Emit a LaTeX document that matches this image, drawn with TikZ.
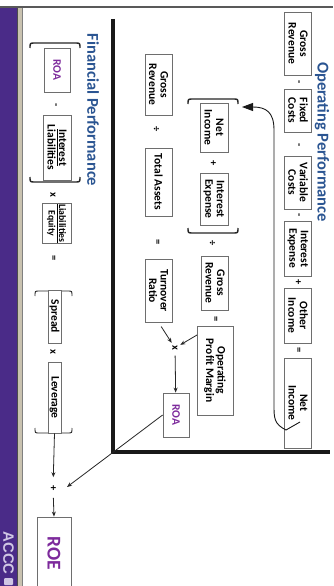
\documentclass[tikz,border=0pt]{standalone}
\usepackage{fontspec}
\setmainfont{Carlito}
\newfontfamily\accfont{Liberation Sans}
\usetikzlibrary{arrows.meta}
\definecolor{ttlblue}{HTML}{2B5592}
\definecolor{roapurple}{HTML}{7D2A9C}
\definecolor{barpurple}{HTML}{4A2B88}
\definecolor{boxline}{HTML}{6E6E6E}
\definecolor{beigestrip}{HTML}{C9C2B0}
\definecolor{lavtext}{HTML}{CFC6E4}
\begin{document}
\begin{tikzpicture}[x=1pt,y=1pt,
  box/.style={draw=boxline, line width=0.8pt, fill=white, align=center, inner sep=0pt,
     font=\bfseries\fontsize{11.5}{11.5}\selectfont},
  opr/.style={inner sep=0pt, font=\bfseries\fontsize{10.5}{10.5}\selectfont},
  ttl/.style={inner sep=0pt, text=ttlblue, font=\bfseries\fontsize{16.5}{16.5}\selectfont},
  arr/.style={-{Stealth[length=5pt,width=4pt]}, line width=0.8pt, black!85},
  brk/.style={line width=1.4pt, black!85}]
\clip (0,-586) rectangle (333,0);
\fill[white] (0,-586) rectangle (333,0);
\begin{scope}[rotate=-90, transform shape]
  % slide frame and bottom bar
  \fill[barpurple] (8,0) rectangle (586,17);
  \fill[beigestrip] (8,17) rectangle (586,22.5);
  \draw[black!70, line width=0.8pt] (8,17.4) -- (586,17.4);
  \draw[gray, line width=0.8pt] (8,22.8) -- (586,22.8);
  \draw[black!65, line width=1.2pt] (7,0) -- (7,333);
  \node[inner sep=0pt, text=lavtext, font=\accfont\bfseries\fontsize{15}{15}\selectfont] (accc) at (553,8.5) {ACCC};
  \fill[lavtext, rounded corners=1pt] (578,4) rectangle (585,13);

  % titles
  \node[ttl] (optitle) at (142,322) {Operating Performance};
  \node[ttl] (fintitle) at (110,93) {Financial Performance};

  % thick divider
  \draw[line width=3.2pt, black!90] (19,113) -- (452,113) -- (452,330);

  % top row
  \node[box, minimum width=63pt, minimum height=27pt] (gr1) at (43.5,298) {Gross\\Revenue};
  \node[opr] (o1) at (82,298) {-};
  \node[box, minimum width=43pt, minimum height=27pt] (fc) at (110.5,298) {Fixed\\Costs};
  \node[opr] (o2) at (145,298) {-};
  \node[box, minimum width=53pt, minimum height=27pt] (vc) at (182.5,298) {Variable\\Costs};
  \node[opr] (o3) at (215,298) {-};
  \node[box, minimum width=55pt, minimum height=27pt] (ie1) at (248.5,298) {Interest\\Expense};
  \node[opr] (o4) at (282,298) {+};
  \node[box, minimum width=55pt, minimum height=27pt] (oi) at (315.5,298) {Other\\Income};
  \node[opr] (o5) at (350,298) {=};
  \node[box, minimum width=90pt, minimum height=27pt] (ni1) at (403,298) {Net\\Income};

  % middle group
  \draw[brk] (104,188) .. controls (99,188) .. (99,193) -- (99,233) .. controls (99,238) .. (104,238);
  \draw[brk] (228,188) .. controls (233,188) .. (233,193) -- (233,233) .. controls (233,238) .. (228,238);
  \node[box, minimum width=49pt, minimum height=28pt] (ni2) at (127.5,214) {Net\\Income};
  \node[opr] (o6) at (163,213) {+};
  \node[box, minimum width=52pt, minimum height=28pt] (ie2) at (199,214) {Interest\\Expense};
  \node[opr] (o7) at (243,212) {÷};
  \node[box, minimum width=54pt, minimum height=27pt] (gr2) at (283,215) {Gross\\Revenue};
  \node[opr] (o8) at (319,215) {=};
  \node[box, minimum width=89pt, minimum height=36pt] (opm) at (370.5,215) {Operating\\Profit Margin};

  % left column
  \node[box, minimum width=61pt, minimum height=27pt] (gr3) at (84.5,158.5) {Gross\\Revenue};
  \node[opr] (o9) at (129,156) {÷};
  \node[box, minimum width=68pt, minimum height=27pt] (ta) at (182,158.5) {Total Assets};
  \node[opr] (o10) at (242,157) {=};
  \node[box, minimum width=63pt, minimum height=27pt] (tr) at (290.5,158.5) {Turnover\\Ratio};

  \node[opr] (times) at (348,175) {x};
  \coordinate (opmA) at (335,197);
  \draw[arr, shorten <=5pt, shorten >=3pt] (tr.east) -- (times);
  \draw[arr, shorten >=3pt] (opmA) -- (times);
  \node[box, minimum width=44pt, minimum height=26pt, text=roapurple] (roa1) at (415,176) {ROA};
  \draw[arr, shorten <=5pt] (times) -- (roa1);

  % curved feedback arrow
  \coordinate (c0) at (422,300);
  \coordinate (ctip) at (107,242);
  \draw[line width=0.9pt, black!90, -{Triangle[length=11pt,width=8pt]}]
    (c0) -- (430,286) .. controls (424,274) and (418,274) .. (405,274) -- (130,274)
    .. controls (112,274) and (107,266) .. (ctip);

  % financial performance
  \draw[brk] (48,30) .. controls (43,30) .. (43,35) -- (43,75) .. controls (43,80) .. (48,80);
  \draw[brk] (177,30) .. controls (182,30) .. (182,35) -- (182,75) .. controls (182,80) .. (177,80);
  \node[box, minimum width=44pt, minimum height=26pt, text=roapurple] (roa2) at (70,57) {ROA};
  \node[opr] (o11) at (105,55) {-};
  \node[box, minimum width=65pt, minimum height=28pt] (il) at (147.5,57) {\underline{Interest}\\Liabilities};
  \node[opr] (o12) at (195,53) {x};
  \node[box, minimum width=40pt, minimum height=29pt, font=\bfseries\fontsize{9.8}{10.5}\selectfont] (le) at (223.5,56.5) {\underline{Liabilities}\\Equity};
  \node[opr] (o13) at (258,53) {=};
  \draw[brk, line width=0.9pt] (296,35) .. controls (291,35) .. (291,39) -- (291,68) .. controls (291,72) .. (296,72);
  \draw[brk, line width=0.9pt] (428,35) .. controls (433,35) .. (433,39) -- (433,68) .. controls (433,72) .. (428,72);
  \node[box, minimum width=53pt, minimum height=13pt] (spr) at (316.5,54.5) {Spread};
  \node[opr] (o14) at (352,53) {x};
  \node[box, minimum width=71pt, minimum height=13pt] (lev) at (397.5,54.5) {Leverage};
  \node[opr] (plusF) at (488,53) {+};
  \node[box, minimum width=72pt, minimum height=34pt, text=roapurple,
        font=\bfseries\fontsize{19.5}{19.5}\selectfont] (roe) at (553,54) {ROE};
  \draw[arr, shorten >=8pt] (lev.east) -- (plusF);
  \draw[arr, shorten <=7pt] (plusF) -- (roe.west);
  \coordinate (roatip) at (487,67);
  \draw[arr] (roa1.south) -- (roatip);
\end{scope}
\end{tikzpicture}
\end{document}
